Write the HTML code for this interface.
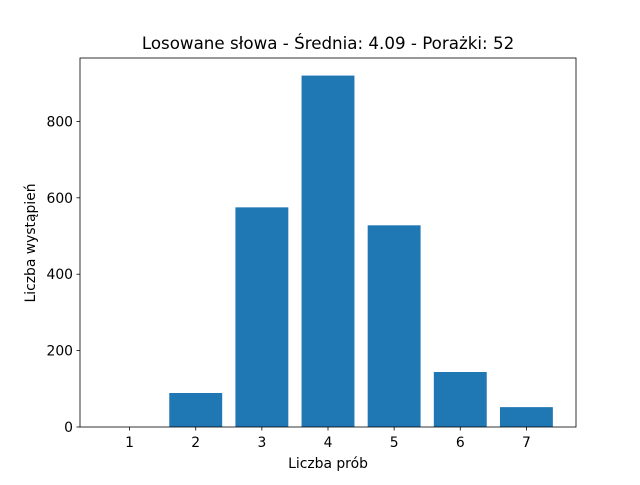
<!DOCTYPE html>
<html><head><meta charset="utf-8"><style>
body{margin:0;background:#fff;}
svg text{font-family:"DejaVu Sans","Liberation Sans",sans-serif;fill:#000;}
</style></head><body>
<svg id="chart" width="640" height="480">
<rect width="640" height="480" fill="#fff"/>
<text x="328" y="49" font-size="16.7" text-anchor="middle">Losowane słowa - Średnia: 4.09 - Porażki: 52</text>
<g id="bars"></g>
<g id="axes"></g>
<text x="328" y="468" font-size="13.9" text-anchor="middle">Liczba prób</text>
<text transform="translate(35,243) rotate(-90)" font-size="13.9" text-anchor="middle">Liczba wystąpień</text>
</svg>
<script>
const categories=[1,2,3,4,5,6,7];
const counts=[0,89,575,920,528,144,52];
const yTicks=[0,200,400,600,800];
const L=80,R=576,T=58,B=427;
const xMin=0.25,xMax=7.75,yMax=966;
const xs=v=>L+(v-xMin)/(xMax-xMin)*(R-L);
const ys=v=>B-v/yMax*(B-T);
const NS="http://www.w3.org/2000/svg";
const bars=document.getElementById('bars'),axes=document.getElementById('axes');
function mk(tag,attrs,parent){const e=document.createElementNS(NS,tag);for(const k in attrs)e.setAttribute(k,attrs[k]);parent.appendChild(e);return e;}
const bw=xs(0.8)-xs(0);
categories.forEach((c,i)=>{
  const r=mk('rect',{x:xs(c)-bw/2,y:ys(counts[i]),width:bw,height:B-ys(counts[i]),fill:'#1f77b4'},bars);
  
  
  const t=mk('line',{x1:xs(c),x2:xs(c),y1:B,y2:B+3.5,stroke:'#000','stroke-width':0.8},axes);
  
  
  const l=mk('text',{x:xs(c),y:B+20,'font-size':13.9,'text-anchor':'middle'},axes);
  l.textContent=c;
  
  
});
yTicks.forEach(v=>{
  const t=mk('line',{x1:L-3.5,x2:L,y1:ys(v),y2:ys(v),stroke:'#000','stroke-width':0.8},axes);
  
  
  const l=mk('text',{x:L-7,y:ys(v)+5,'font-size':13.9,'text-anchor':'end'},axes);
  l.textContent=v;
  
  
});
const f=mk('rect',{x:L,y:T,width:R-L,height:B-T,fill:'none',stroke:'#000','stroke-width':0.8},axes);


</script>
</body></html>
